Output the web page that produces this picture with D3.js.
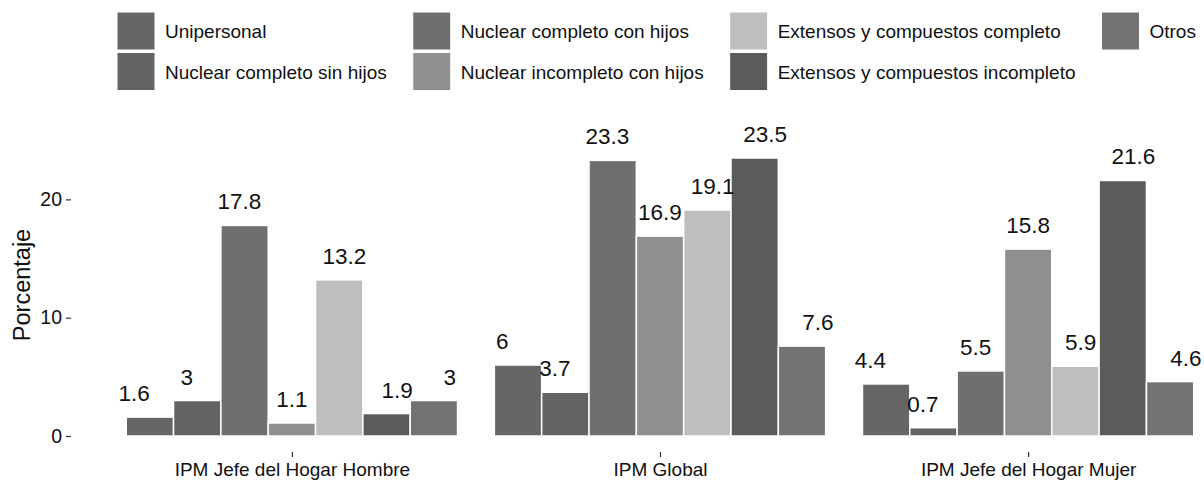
<!DOCTYPE html>
<html>
<head>
<meta charset="utf-8">
<script src="https://cdn.jsdelivr.net/npm/d3@7"></script>
<style>
  html, body { margin: 0; padding: 0; background: #fff; }
  svg { display: block; font-family: "Liberation Sans", Arial, sans-serif; }
</style>
</head>
<body>
<svg id="chart" width="1204" height="481"></svg>
<script>
// Household types (series) and poverty groups (x categories)
const tipos = [
  "Unipersonal",
  "Nuclear completo sin hijos",
  "Nuclear completo con hijos",
  "Nuclear incompleto con hijos",
  "Extensos y compuestos completo",
  "Extensos y compuestos incompleto",
  "Otros"
];
const grupos = ["IPM Jefe del Hogar Hombre", "IPM Global", "IPM Jefe del Hogar Mujer"];

// Percentages per group, in the order of `tipos`
const hombre = [1.6, 3, 17.8, 1.1, 13.2, 1.9, 3];
const global = [6, 3.7, 23.3, 16.9, 19.1, 23.5, 7.6];
const mujer  = [4.4, 0.7, 5.5, 15.8, 5.9, 21.6, 4.6];

const yTicks = [0, 10, 20];
const colores = ["#666666", "#636363", "#6f6f6f", "#8f8f8f", "#bebebe", "#5b5b5b", "#737373"];

const valores = [hombre, global, mujer];
const datos = [];
grupos.forEach((g, gi) => {
  tipos.forEach((t, ti) => datos.push({ grupo: g, tipo: t, valor: valores[gi][ti] }));
});

const svg = d3.select("#chart");

// Panel geometry (extends past the right edge of the canvas)
const panel = { left: 71, right: 1249, top: 100, bottom: 452 };

const x = d3.scalePoint().domain(grupos).range([panel.left, panel.right]).padding(0.6);
const groupW = x.step() * 0.9;
const xi = d3.scaleBand().domain(tipos).range([-groupW / 2, groupW / 2]).padding(0);
// Labels are dodged over the full step width
const xl = d3.scaleBand().domain(tipos).range([-x.step() / 2, x.step() / 2]).padding(0);

const y = d3.scaleLinear().domain([0, 20]).range([436, 199.4]);
const color = d3.scaleOrdinal().domain(tipos).range(colores);

// Bars
svg.append("g").selectAll("rect")
  .data(datos)
  .join("rect")
  .attr("x", d => x(d.grupo) + xi(d.tipo))
  .attr("y", d => y(d.valor))
  .attr("width", xi.bandwidth())
  .attr("height", d => y(0) - y(d.valor))
  .attr("fill", d => color(d.tipo))
  .attr("stroke", "#ffffff")
  .attr("stroke-width", 1.5);

// Value labels
svg.append("g").selectAll("text")
  .data(datos)
  .join("text")
  .attr("x", d => x(d.grupo) + xl(d.tipo) + xl.bandwidth() / 2)
  .attr("y", d => y(d.valor) - 16)
  .attr("text-anchor", "middle")
  .attr("font-size", 22.5)
  .attr("fill", "#111")
  .text(d => d3.format("~g")(d.valor));

// Y axis
const yAxis = svg.append("g")
  .attr("transform", `translate(${panel.left},0)`)
  .call(d3.axisLeft(y).tickValues(yTicks).tickSize(5).tickPadding(4).tickFormat(d3.format("d")));
yAxis.select(".domain").remove();
yAxis.selectAll("line").attr("stroke", "#333").attr("stroke-width", 1.2);
yAxis.selectAll("text").attr("font-size", 19.5).attr("fill", "#111")
  .attr("font-family", "Liberation Sans, Arial, sans-serif");

// X axis
const xAxis = svg.append("g")
  .attr("transform", `translate(0,${panel.bottom})`)
  .call(d3.axisBottom(x).tickSize(5).tickPadding(6));
xAxis.select(".domain").remove();
xAxis.selectAll("line").attr("stroke", "#333").attr("stroke-width", 1.2);
xAxis.selectAll("text").attr("font-size", 19).attr("fill", "#111")
  .attr("font-family", "Liberation Sans, Arial, sans-serif");

// Y axis title
svg.append("text")
  .attr("transform", "translate(30,285) rotate(-90)")
  .attr("text-anchor", "middle")
  .attr("font-size", 23.5)
  .attr("fill", "#111")
  .text("Porcentaje");

// Legend: two rows, filled column by column
const legend = svg.append("g");
const keySize = 38, rowY = [12, 52.5];
let colX = 117;
const nCols = Math.ceil(tipos.length / 2);
for (let c = 0; c < nCols; c++) {
  const items = tipos.slice(c * 2, c * 2 + 2);
  let maxW = 0;
  items.forEach((t, r) => {
    legend.append("rect")
      .attr("x", colX).attr("y", rowY[r])
      .attr("width", keySize).attr("height", keySize)
      .attr("fill", color(t))
      .attr("stroke", "#fff").attr("stroke-width", 1);
    const txt = legend.append("text")
      .attr("x", colX + 48).attr("y", rowY[r] + keySize / 2 + 7)
      .attr("font-size", 19).attr("fill", "#111")
      .text(t);
    maxW = Math.max(maxW, txt.node().getComputedTextLength());
  });
  colX = colX + 48 + maxW + 26;
}
</script>
</body>
</html>
